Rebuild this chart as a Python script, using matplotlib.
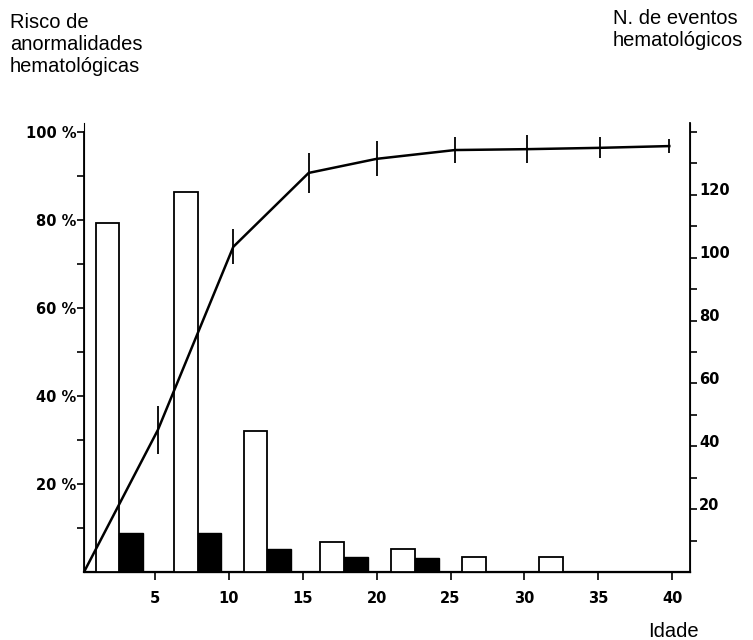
import numpy as np
import matplotlib.pyplot as plt
from matplotlib.transforms import ScaledTranslation

# age groups (x position where the two bars of each group meet)
grupos = [2.6, 7.9, 12.6, 17.8, 22.6, 27.4, 32.6]
eventos_brancos = [111, 121, 45, 9.6, 7.2, 4.7, 4.7]   # white bars, right axis
eventos_pretos = [12.3, 12.3, 7.3, 4.7, 4.6, 0, 0]     # black bars, right axis

# cumulative risk curve (left axis, %)
idade = [0.2, 5.2, 10.3, 15.4, 20.0, 25.3, 30.2, 35.1, 39.8]
risco = [0, 32.3, 73.9, 90.7, 93.9, 95.9, 96.1, 96.4, 96.8]
erro = [0, 5.5, 4.0, 4.6, 4.0, 3.0, 3.2, 2.4, 1.6]

x_ticks = [5, 10, 15, 20, 25, 30, 35, 40]
y_left_ticks = [20, 40, 60, 80, 100]
y_right_ticks = [20, 40, 60, 80, 100, 120]

W, H = 753, 640
fig = plt.figure(figsize=(W / 100, H / 100), dpi=100)
x0, x1, y0, y1 = 84, 690, 572, 123
ax = fig.add_axes([x0 / W, 1 - y0 / H, (x1 - x0) / W, (y0 - y1) / H])
ax2 = ax.twinx()

top_pct = 100 * (y0 - y1) / (y0 - 132)
ax.set_ylim(0, top_pct)
ax2.set_ylim(0, top_pct * 1.4)
ax.set_xlim(0.2, 41.2)

bw = 1.6
ax2.bar(grupos, eventos_brancos, width=-bw, align='edge', color='white',
        edgecolor='black', linewidth=1.3, zorder=2)
ax2.bar(grupos, eventos_pretos, width=bw, align='edge', color='black',
        edgecolor='black', linewidth=1.0, zorder=2)

# line on top of the bars
ax3 = ax.twinx()
ax3.set_ylim(ax.get_ylim())
ax3.axis('off')
ax3.plot(idade, risco, color='black', lw=1.8, zorder=3)
ax3.errorbar(idade[1:], risco[1:], yerr=erro[1:], fmt='none', ecolor='black',
             elinewidth=1.3, capsize=0, zorder=3)

bold = dict(family='DejaVu Sans', weight='bold', size=10.5)

ax.spines['top'].set_visible(False)
ax2.spines['top'].set_visible(False)
ax3.spines['top'].set_visible(False)
ax.spines['left'].set_bounds(0, 100)
ax.spines['left'].set_linewidth(1.3)
ax.spines['bottom'].set_linewidth(1.6)
ax2.spines['right'].set_linewidth(1.3)

ax.set_xticks(x_ticks)
ax.set_xticklabels([str(v) for v in x_ticks], fontdict=bold)
ax.tick_params(axis='x', direction='out', length=6, width=1.2, pad=8)

ax.set_yticks(y_left_ticks)
ax.set_yticks([10, 30, 50, 70, 90], minor=True)
ax.set_yticklabels([f'{v} %' for v in y_left_ticks], fontdict=bold)
ax.tick_params(axis='y', which='both', direction='out', length=5, width=1.2, pad=0.5)

ax2.set_yticks(y_right_ticks)
ax2.set_yticks([10, 30, 50, 70, 90, 110, 130, 140], minor=True)
ax2.set_yticklabels([str(v) for v in y_right_ticks], fontdict=bold)
ax2.tick_params(axis='y', which='both', direction='out', length=5, width=1.2, pad=1.5)
off = ScaledTranslation(0, 4 / 72, fig.dpi_scale_trans)
for lab in ax2.get_yticklabels():
    lab.set_transform(lab.get_transform() + off)

txt = dict(family='Liberation Sans', size=14.5, linespacing=1.2, va='top')
fig.text(10 / W, 1 - 13 / H, 'Risco de\nanormalidades\nhematológicas', ha='left', **txt)
fig.text(613 / W, 1 - 9 / H, 'N. de eventos\nhematológicos', ha='left', **txt)
fig.text(673 / W, 1 - 622 / H, 'Idade', ha='center', **txt)

fig.savefig('out.png', dpi=100)
